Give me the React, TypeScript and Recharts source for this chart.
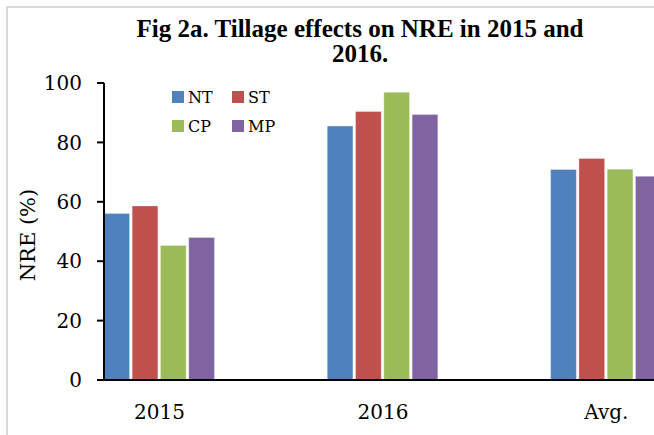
import React from 'react';
import { BarChart, Bar, XAxis, YAxis, Legend } from 'recharts';

const categories = ['2015', '2016', 'Avg.'];
const ntValues = [56.1, 85.5, 70.9];
const stValues = [58.6, 90.4, 74.6];
const cpValues = [45.3, 96.9, 71.0];
const mpValues = [48.0, 89.4, 68.6];
const yTicks = [0, 20, 40, 60, 80, 100];

const seriesNames = ['NT', 'ST', 'CP', 'MP'];
const seriesColors = ['#4F81BD', '#C0504D', '#9BBB59', '#8064A2'];

const data = categories.map((c, i) => ({
  name: c,
  NT: ntValues[i],
  ST: stValues[i],
  CP: cpValues[i],
  MP: mpValues[i],
}));

const serif = '"DejaVu Serif", serif';

const LegendGrid = (props: any) => {
  const payload = [...(props.payload || [])].sort(
    (a: any, b: any) => seriesNames.indexOf(a.value) - seriesNames.indexOf(b.value)
  );
  return (
    <div
      style={{
        display: 'grid',
        gridTemplateColumns: '60px 60px',
        gridAutoRows: '29px',
      }}
    >
      {payload.map((p: any) => (
        <div key={p.value} style={{ display: 'flex', alignItems: 'center' }}>
          <span
            style={{
              display: 'inline-block',
              width: 12,
              height: 12,
              background: p.color,
              marginRight: 4,
            }}
          />
          <span style={{ fontFamily: serif, fontSize: 16, color: '#000', lineHeight: '29px' }}>
            {p.value}
          </span>
        </div>
      ))}
    </div>
  );
};

export default function App() {
  return (
    <div
      style={{
        position: 'absolute',
        left: 0,
        top: 0,
        width: 654,
        height: 435,
        overflow: 'hidden',
        background: '#fff',
      }}
    >
      <div
        style={{
          position: 'absolute',
          left: 6,
          top: 6,
          width: 720,
          height: 500,
          borderLeft: '2px solid #d9d9d9',
          borderTop: '2px solid #d9d9d9',
        }}
      />
      <div
        style={{
          position: 'absolute',
          left: 0,
          top: 16,
          width: 720,
          textAlign: 'center',
          fontFamily: '"Liberation Serif", serif',
          fontWeight: 'bold',
          fontSize: 25,
          lineHeight: '25px',
          color: '#000',
          whiteSpace: 'nowrap',
        }}
      >
        Fig 2a. Tillage effects on NRE in 2015 and
        <br />
        2016.
      </div>
      <div
        style={{
          position: 'absolute',
          left: 28,
          top: 235,
          transform: 'translate(-50%, -50%) rotate(-90deg)',
          fontFamily: serif,
          fontSize: 21,
          color: '#000',
          whiteSpace: 'nowrap',
        }}
      >
        NRE (%)
      </div>
      <div style={{ position: 'absolute', left: 0, top: 0 }}>
        <BarChart
          width={718}
          height={435}
          data={data}
          margin={{ top: 83, right: 0, left: 0, bottom: 0 }}
          barGap={2.6}
          barSize={25.7}
        >
          <XAxis
            dataKey="name"
            height={55}
            padding={{ left: -56.15, right: 0 }}
            axisLine={{ stroke: '#000', strokeWidth: 2 }}
            tickLine={false}
            tickSize={0}
            tickMargin={25}
            tick={{ fill: '#000', fontSize: 20, fontFamily: serif }}
            interval={0}
          />
          <YAxis
            width={104}
            domain={[0, 100]}
            ticks={yTicks}
            interval={0}
            axisLine={{ stroke: '#000', strokeWidth: 2 }}
            tickLine={{ stroke: '#000', strokeWidth: 2 }}
            tickSize={7}
            tickMargin={15}
            tick={{ fill: '#000', fontSize: 20, fontFamily: serif }}
          />
          <Legend
            layout="horizontal"
            verticalAlign="middle"
            align="center"
            content={<LegendGrid />}
            wrapperStyle={{ left: 172, top: 82.5, width: 130, height: 58 }}
          />
          {seriesNames.map((s, i) => (
            <Bar
              key={s}
              dataKey={s}
              name={s}
              fill={seriesColors[i]}
              stroke="#ffffff"
              strokeOpacity={0.3}
              strokeWidth={1}
              isAnimationActive={false}
            />
          ))}
        </BarChart>
      </div>
    </div>
  );
}
